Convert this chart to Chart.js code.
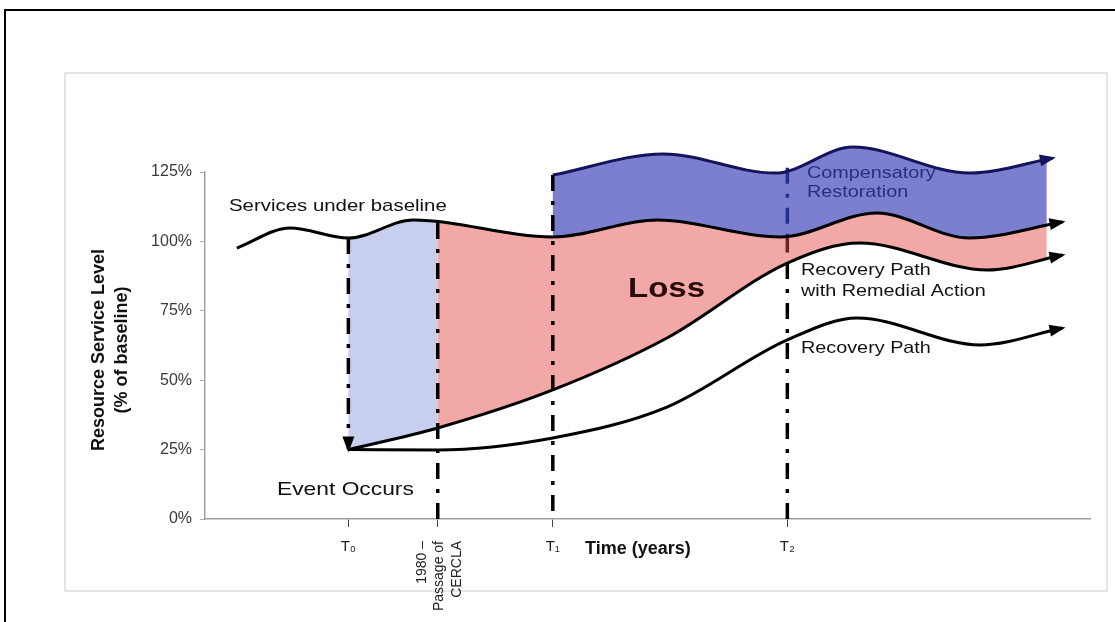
<!DOCTYPE html>
<html>
<head>
<meta charset="utf-8">
<script src="https://cdn.jsdelivr.net/npm/chart.js@4.4.1/dist/chart.umd.min.js"></script>
<style>
  body { margin: 0; background: #fff; }
  canvas { display: block; }
</style>
</head>
<body>
<canvas id="myChart" width="1115" height="622"></canvas>
<script>
const ctx = document.getElementById("myChart");
var SANS = '"Liberation Sans", Arial, sans-serif';

// time runs 0..100 (arbitrary years), levels are % of baseline
var yTicks = [0, 25, 50, 75, 100, 125];
var markerNames = ["T₀", "", "T₁", "T₂"];
var markerTimes = [16.2, 26.3, 39.3, 65.8];
var markerTop = [101.2, 106.6, 123.9, 126.5];
var markerBottom = [25, 0, 0, 0];
var cerclaLabel = ["1980 –", "Passage of", "CERCLA"];

var baselineX = [3.6, 9.6, 16.2, 23.5, 39.3, 51.1, 65.0, 75.9, 86.4, 96.9];
var baselineY = [97.6, 104.8, 101.2, 107.7, 101.6, 107.7, 101.6, 110.2, 101.2, 107.0];

var compX = [39.3, 51.8, 64.4, 73.2, 86.4, 95.8];
var compY = [123.9, 131.5, 124.6, 134.0, 124.6, 130.0];

var remedialX = [16.2, 26.3, 39.3, 52.2, 65.8, 74.0, 88.4, 96.9];
var remedialY = [25.0, 32.8, 46.5, 65.2, 92.2, 99.4, 89.7, 95.1];

var recoveryX = [16.2, 26.3, 39.3, 52.2, 65.8, 73.7, 87.6, 96.9];
var recoveryY = [25.0, 24.9, 29.2, 40.3, 64.5, 72.4, 62.7, 68.8];

// T2 line passes through the coloured bands
var t2Y = [126.5, 101.8, 92.2, 0];
var t2Colors = ["#22308c", "#6e2323", "#000"];

var fillEnd = 95.1;

function pts(xs, ys) {
    return xs.map(function (x, i) { return { x: x, y: ys[i] }; });
}

function curve(xs, ys, color) {
    return {
        data: pts(xs, ys),
        borderColor: color,
        borderWidth: 3,
        pointRadius: 0,
        cubicInterpolationMode: "monotone",
        clip: false,
        fill: false
    };
}

function marker(i) {
    return {
        data: [{ x: markerTimes[i], y: markerTop[i] }, { x: markerTimes[i], y: markerBottom[i] }],
        borderColor: "#000",
        borderWidth: 3.5,
        borderDash: [16, 10, 4, 10],
        pointRadius: 0,
        tension: 0,
        clip: false,
        fill: false
    };
}

var t2 = marker(3);
t2.data = t2Y.map(function (y) { return { x: markerTimes[3], y: y }; });
t2.segment = { borderColor: function (c) { return t2Colors[c.p0DataIndex]; } };

// follow the drawn bezier of a line dataset, forward or backward
function tracePath(c, p, rev) {
    var n = p.length - 1;
    if (!rev) {
        c.lineTo(p[0].x, p[0].y);
        for (var i = 1; i <= n; i++)
            c.bezierCurveTo(p[i - 1].cp2x, p[i - 1].cp2y, p[i].cp1x, p[i].cp1y, p[i].x, p[i].y);
    } else {
        c.lineTo(p[n].x, p[n].y);
        for (var j = n - 1; j >= 0; j--)
            c.bezierCurveTo(p[j + 1].cp1x, p[j + 1].cp1y, p[j].cp2x, p[j].cp2y, p[j].x, p[j].y);
    }
}

function band(chart, upper, lower, x0, x1, color) {
    var c = chart.ctx, xs = chart.scales.x;
    var a = xs.getPixelForValue(x0), b = xs.getPixelForValue(x1);
    var mu = chart.getDatasetMeta(upper), ml = chart.getDatasetMeta(lower);
    mu.dataset.updateControlPoints(chart.chartArea, "x");
    ml.dataset.updateControlPoints(chart.chartArea, "x");
    c.save();
    c.beginPath();
    c.rect(a, 0, b - a, chart.height);
    c.clip();
    c.beginPath();
    tracePath(c, mu.data, false);
    tracePath(c, ml.data, true);
    c.closePath();
    c.fillStyle = color;
    c.fill();
    c.restore();
}

function arrowHead(c, x, y, ang, color) {
    c.save();
    c.translate(x, y);
    c.rotate(ang);
    c.beginPath();
    c.moveTo(3, 0);
    c.lineTo(-13, -6);
    c.lineTo(-13, 6);
    c.closePath();
    c.fillStyle = color;
    c.fill();
    c.restore();
}

function label(c, txt, x, y, font, color, sx) {
    c.save();
    c.translate(x, y);
    c.scale(sx || 1, 1);
    c.font = font;
    c.fillStyle = color;
    c.textAlign = "left";
    c.textBaseline = "middle";
    c.fillText(txt, 0, 0);
    c.restore();
}

var diagramPlugin = {
    id: "diagram",
    beforeDraw: function (chart) {
        var c = chart.ctx;
        c.save();
        c.fillStyle = "#fff";
        c.fillRect(0, 0, chart.width, chart.height);
        c.strokeStyle = "#000";
        c.lineWidth = 2;
        c.beginPath();
        c.moveTo(5, 622);
        c.lineTo(5, 10);
        c.lineTo(1115, 10);
        c.stroke();
        c.strokeStyle = "#dcdcdc";
        c.lineWidth = 1.5;
        c.strokeRect(65, 73, 1042, 518);
        c.restore();
    },
    beforeDatasetsDraw: function (chart) {
        band(chart, 0, 2, markerTimes[0], markerTimes[1], "#c8cfee");
        band(chart, 0, 2, markerTimes[1], fillEnd, "#f3a8a8");
        band(chart, 1, 0, markerTimes[2], fillEnd, "#7c7fd0");
    },
    afterDatasetsDraw: function (chart) {
        var c = chart.ctx;
        var colors = ["#000", "#14145a", "#000", "#000"];
        for (var i = 0; i < 4; i++) {
            var p = chart.getDatasetMeta(i).data;
            var last = p[p.length - 1];
            arrowHead(c, last.x, last.y, Math.atan2(last.y - last.cp1y, last.x - last.cp1x), colors[i]);
        }
        var xs = chart.scales.x, ys = chart.scales.y;
        arrowHead(c, xs.getPixelForValue(markerTimes[0]), ys.getPixelForValue(markerBottom[0]), Math.PI / 2, "#000");
    },
    afterDraw: function (chart) {
        var c = chart.ctx;
        label(c, "Services under baseline", 229, 206, "17px " + SANS, "#111", 1.2);
        label(c, "Loss", 628, 289, "bold 28px " + SANS, "#2a0b0b", 1.18);
        label(c, "Compensatory", 807, 173, "16.5px " + SANS, "#27307a", 1.2);
        label(c, "Restoration", 807, 192, "16.5px " + SANS, "#27307a", 1.2);
        label(c, "Recovery Path", 801, 270, "16.5px " + SANS, "#111", 1.2);
        label(c, "with Remedial Action", 801, 291, "16.5px " + SANS, "#111", 1.2);
        label(c, "Recovery Path", 801, 348, "16.5px " + SANS, "#111", 1.2);
        label(c, "Event Occurs", 277, 490, "19px " + SANS, "#111", 1.2);
        label(c, "Time (years)", 585, 549, "bold 18px " + SANS, "#111", 1);

        // y axis title
        c.save();
        c.translate(99, 350);
        c.rotate(-Math.PI / 2);
        c.font = "bold 18px " + SANS;
        c.fillStyle = "#111";
        c.textAlign = "center";
        c.textBaseline = "middle";
        c.fillText("Resource Service Level", 0, 0);
        c.fillText("(% of baseline)", 0, 23);
        c.restore();

        // rotated label under the 1980 tick
        var x = chart.scales.x.getPixelForValue(markerTimes[1]);
        c.save();
        c.translate(x - 16, 541);
        c.rotate(-Math.PI / 2);
        c.font = "14px " + SANS;
        c.fillStyle = "#222";
        c.textAlign = "right";
        c.textBaseline = "middle";
        for (var k = 0; k < cerclaLabel.length; k++) c.fillText(cerclaLabel[k], 0, k * 17.5);
        c.restore();
    }
};

var myChart = new Chart(ctx, {
    type: "line",
    data: {
        datasets: [
            curve(baselineX, baselineY, "#000"),
            curve(compX, compY, "#14145a"),
            curve(remedialX, remedialY, "#000"),
            curve(recoveryX, recoveryY, "#000"),
            marker(0),
            marker(1),
            marker(2),
            t2
        ]
    },
    options: {
        responsive: false,
        animation: false,
        events: [],
        layout: { padding: { top: 172, right: 25, bottom: 0, left: 0 } },
        elements: { line: { capBezierPoints: false, borderCapStyle: "butt" } },
        plugins: { legend: { display: false }, tooltip: { enabled: false } },
        scales: {
            x: {
                type: "linear",
                min: 0,
                max: 100,
                afterFit: function (s) { s.height = 103; },
                afterBuildTicks: function (s) {
                    s.ticks = markerTimes.map(function (v) { return { value: v }; });
                },
                ticks: {
                    autoSkip: false,
                    maxRotation: 0,
                    padding: 11,
                    color: "#222",
                    font: { family: SANS, size: 15 },
                    callback: function (v, i) { return markerNames[i]; }
                },
                grid: { drawOnChartArea: false, drawTicks: true, tickLength: 8, tickColor: "#444", tickWidth: 1 },
                border: { display: true, color: "#a0a0a0", width: 1.5 }
            },
            y: {
                min: 0,
                max: 125,
                afterFit: function (s) { s.width = 205; },
                afterBuildTicks: function (s) {
                    s.ticks = yTicks.map(function (v) { return { value: v }; });
                },
                ticks: {
                    padding: 8,
                    color: "#3a3a3a",
                    font: { family: SANS, size: 16 },
                    callback: function (v) { return v + "%"; }
                },
                grid: { drawOnChartArea: false, drawTicks: true, tickLength: 5, tickColor: "#b0b0b0" },
                border: { display: true, color: "#a0a0a0", width: 1.5 }
            }
        }
    },
    plugins: [diagramPlugin]
});
</script>
</body>
</html>
